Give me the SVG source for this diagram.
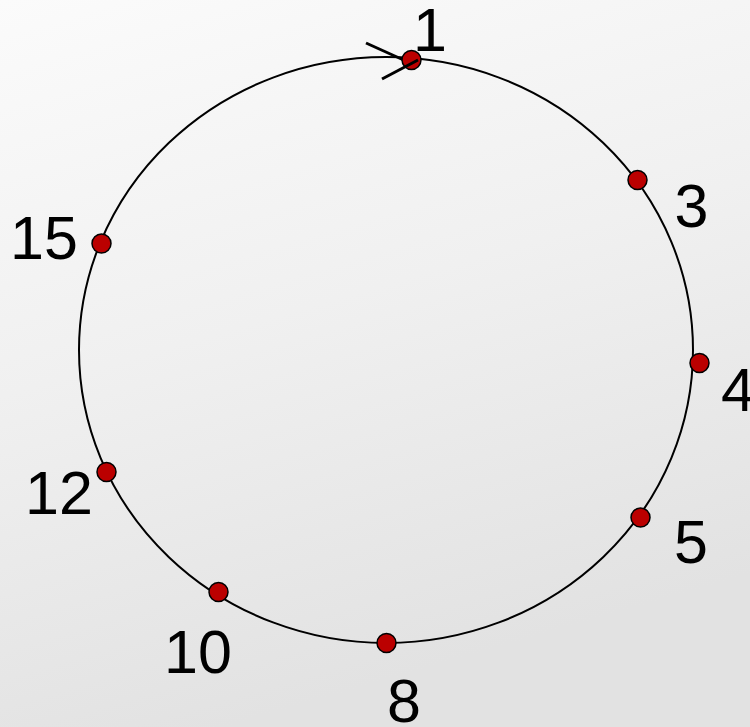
<svg xmlns="http://www.w3.org/2000/svg" width="750" height="727" viewBox="0 0 750 727">
<defs>
<linearGradient id="bg" x1="0" y1="0" x2="0.3" y2="1">
<stop offset="0" stop-color="#fbfbfb"/>
<stop offset="0.5" stop-color="#f0f0f0"/>
<stop offset="1" stop-color="#e2e2e2"/>
</linearGradient>
<style>
.dot{fill:#bb0000;stroke:#000;stroke-width:1.5}
.lbl{font-family:"Liberation Sans",Arial,sans-serif;font-size:61px;fill:#000;text-anchor:middle}
.ring{fill:none;stroke:#000;stroke-width:2}
.arr{stroke:#000;stroke-width:3;fill:none}
</style>
</defs>
<rect width="750" height="727" fill="url(#bg)"/>
<g id="connectors">
<ellipse class="ring" cx="386" cy="350" rx="307" ry="293"/>
<line class="arr" x1="366" y1="43" x2="408" y2="62"/>
</g>
<g id="n1"><circle class="dot" cx="411.5" cy="60" r="9.5"/><text class="lbl" x="430" y="51">1</text></g>
<g id="arrow-front"><line class="arr" x1="382" y1="79" x2="418" y2="60"/></g>
<g id="n3"><circle class="dot" cx="637.5" cy="180" r="9.5"/><text class="lbl" x="691.5" y="227">3</text></g>
<g id="n4"><circle class="dot" cx="699.5" cy="363" r="9.5"/><text class="lbl" x="738" y="411">4</text></g>
<g id="n5"><circle class="dot" cx="640.5" cy="517.5" r="9.5"/><text class="lbl" x="691" y="563">5</text></g>
<g id="n8"><circle class="dot" cx="386.5" cy="643" r="9.5"/><text class="lbl" x="404" y="722">8</text></g>
<g id="n10"><circle class="dot" cx="218.5" cy="592" r="9.5"/><text class="lbl" x="198" y="673">10</text></g>
<g id="n12"><circle class="dot" cx="106.5" cy="472" r="9.5"/><text class="lbl" x="59" y="514">12</text></g>
<g id="n15"><circle class="dot" cx="101.5" cy="243.5" r="9.5"/><text class="lbl" x="44" y="259">15</text></g>
</svg>
